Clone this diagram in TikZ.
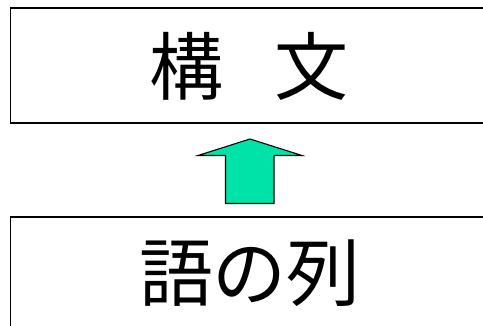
\documentclass[tikz,border=0pt]{standalone}
\usepackage{fontspec}
\newfontfamily\cjk{Noto Sans CJK JP}
\definecolor{arrowgreen}{RGB}{0,227,168}
\begin{document}
\begin{tikzpicture}[x=1pt,y=-1pt,
  box/.style={draw=black,line width=1.6pt,inner sep=0pt,anchor=north west},
  lbl/.style={font=\cjk\fontsize{74}{80}\selectfont,inner sep=0pt},
  blockarrow/.style={draw=black,line width=1.1pt,fill=arrowgreen,line join=miter}]
\useasboundingbox (0,0) rectangle (483,326);
\clip (0,0) rectangle (483,326);
\node[box,minimum width=500pt,minimum height=115pt] (top) at (9.5,7.5) {};
\node[box,minimum width=500pt,minimum height=130pt] (bottom) at (9.5,216) {};
\node[lbl] (toptext) at (249,66) {構\hspace{52pt}文};
\node[lbl] (bottext) at (250,273) {語の列};
\coordinate (tip) at (250,139);
\draw[blockarrow] (tip) -- (302,155.5) -- (274,155.5) -- (274,203.5) -- (225.5,203.5) -- (225.5,155.5) -- (198,155.5) -- cycle;
\end{tikzpicture}
\end{document}
